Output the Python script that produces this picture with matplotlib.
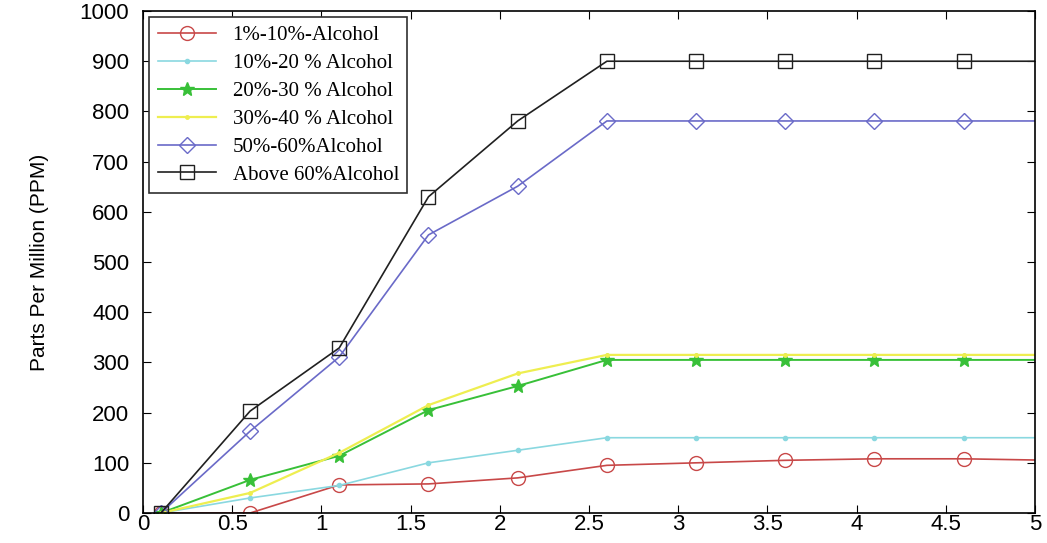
import numpy as np
import matplotlib.pyplot as plt

# dane
x = [0.1, 0.6, 1.1, 1.6, 2.1, 2.6, 3.1, 3.6, 4.1, 4.6, 5.1]
alc_1_10 = [0, 0, 56, 58, 70, 95, 100, 105, 108, 108, 105]
alc_10_20 = [0, 30, 55, 100, 125, 150, 150, 150, 150, 150, 150]
alc_20_30 = [0, 66, 114, 205, 253, 305, 305, 305, 305, 305, 305]
alc_30_40 = [0, 40, 120, 215, 278, 315, 315, 315, 315, 315, 315]
alc_50_60 = [0, 163, 311, 554, 651, 781, 781, 781, 781, 781, 781]
alc_60 = [0, 203, 329, 630, 781, 900, 900, 900, 900, 900, 900]

labels = ['1%-10%-Alcohol', '10%-20 % Alcohol', '20%-30 % Alcohol',
          '30%-40 % Alcohol', '50%-60%Alcohol', 'Above 60%Alcohol']
x_ticks = [0, 0.5, 1, 1.5, 2, 2.5, 3, 3.5, 4, 4.5, 5]
x_tick_labels = ['0', '0.5', '1', '1.5', '2', '2.5', '3', '3.5', '4', '4.5', '5']
y_ticks = [0, 100, 200, 300, 400, 500, 600, 700, 800, 900, 1000]

fig = plt.figure(figsize=(10.47, 5.43), dpi=100)
ax = fig.add_axes([0.1366, 0.0552, 0.852, 0.9245])

ax.plot(x, alc_1_10, color='#c84848', marker='o', ms=10, mfc='none', lw=1.2, label=labels[0])
ax.plot(x, alc_10_20, color='#8ad8e0', marker='.', ms=6, lw=1.2, label=labels[1])
ax.plot(x, alc_20_30, color='#38c038', marker='*', ms=10, lw=1.4, label=labels[2])
ax.plot(x, alc_30_40, color='#eeee50', marker='.', ms=5, lw=1.6, label=labels[3])
ax.plot(x, alc_50_60, color='#6a6ac8', marker='D', ms=8, mfc='none', lw=1.2, label=labels[4])
ax.plot(x, alc_60, color='#202020', marker='s', ms=10, mfc='none', lw=1.2, label=labels[5])

ax.set_xlim(0, 5)
ax.set_ylim(0, 1000)
ax.set_xticks(x_ticks)
ax.set_xticklabels(x_tick_labels, fontsize=16, family='Liberation Sans')
ax.set_yticks(y_ticks)
ax.set_yticklabels([str(v) for v in y_ticks], fontsize=16, family='Liberation Sans')
ax.tick_params(direction='in', top=True, right=True, length=6)
ax.tick_params(axis='x', pad=1)
ax.tick_params(axis='y', pad=10)
ax.set_ylabel('Parts Per Million (PPM)', fontsize=15, family='Liberation Sans', labelpad=22)

for s in ax.spines.values():
    s.set_linewidth(1.2)

leg = ax.legend(loc='upper left', prop={'family': 'Liberation Serif', 'size': 15},
                fancybox=False, edgecolor='#303030', framealpha=1,
                borderaxespad=0.3, handlelength=2.8, labelspacing=0.4)
leg.get_frame().set_linewidth(1.2)

plt.savefig('out.png', dpi=100)
